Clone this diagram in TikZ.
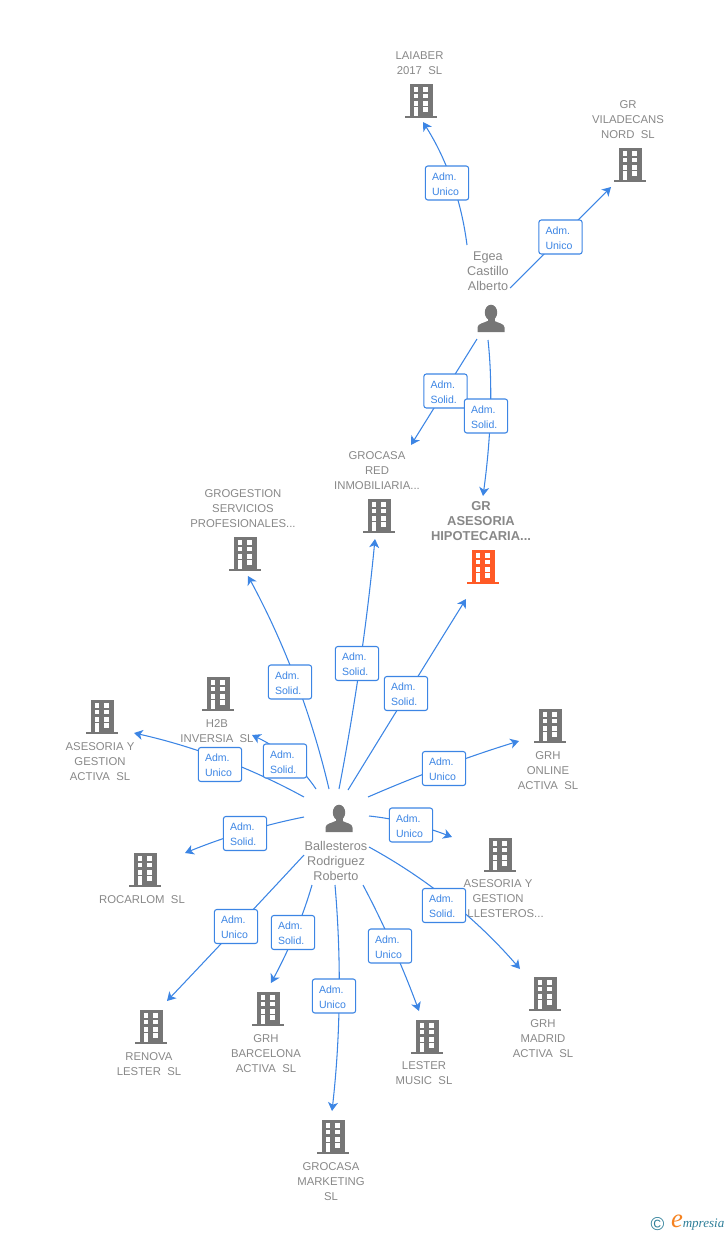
\documentclass[tikz,border=0pt]{standalone}
\usepackage{fontspec}
\setmainfont{Liberation Sans}
\newfontfamily\logofont{Liberation Serif}
\usetikzlibrary{arrows.meta,calc}
\definecolor{linkblue}{HTML}{3C85E4}
\definecolor{txtgray}{HTML}{888888}
\definecolor{icogray}{HTML}{767676}
\definecolor{icoorange}{HTML}{FF5A26}
\definecolor{logoteal}{HTML}{2F7F99}
\definecolor{logoorange}{HTML}{F58220}
\tikzset{
  link/.style={draw=linkblue,line width=0.8pt,-{Stealth[length=6.5pt,width=7.5pt,inset=1.8pt]}},
  rolebox/.style={draw=linkblue,line width=0.8pt,rounded corners=1.8pt,fill=white,
    minimum width=32.4pt,minimum height=25.5pt,inner sep=0pt,text=linkblue,
    font=\fontsize{7.9}{11.25}\selectfont,align=left,text width=22.5pt},
  lab/.style={text=txtgray,inner sep=0pt,align=center,font=\fontsize{8.5}{11.25}\selectfont},
  perlab/.style={lab,font=\fontsize{9.5}{11.25}\selectfont},
  biglab/.style={lab,font=\fontsize{9.7}{11.25}\selectfont\bfseries},
  pics/bld/.style={code={
    \fill[#1] (-11.5,0) rectangle (11.5,32);
    \fill[#1] (-16,32) rectangle (16,34);
    \foreach \yy in {3.3,10,17.3}{
      \fill[white] (-7.3,\yy) rectangle (-3,\yy+4.2);
      \fill[white] (2.4,\yy) rectangle (7,\yy+4.2);
    }
    \fill[white] (2.4,23.3) rectangle (7,27.6);
    \fill[white] (-7.3,23.3) rectangle (-3,32);
  }},
  pics/pers/.style={code={
    \fill[icogray] (0,7.5) ellipse (6.2 and 7.8);
    \fill[icogray] (-3.5,12) rectangle (3.5,19);
    \fill[icogray] (-13.5,27) -- (-13.5,22.5) .. controls (-13.5,18.5) and (-7,18) .. (-3.5,16)
      -- (3.5,16) .. controls (7,18) and (13.5,18.5) .. (13.5,22.5) -- (13.5,27) -- cycle;
  }}
}
% #1 id, #2 start, #3 point the bend is measured from, #4 end
\newcommand\conn[4]{%
  \coordinate (#1s) at (#2);
  \coordinate (#1e) at (#4);
  \coordinate (#1q) at (#3);
  \coordinate (#1m) at ($(#1s)!0.5!(#1e)$);
  \draw[link] (#1s) .. controls ($(#1s)!0.3333!(#1e)+(#1q)-(#1m)$) and ($(#1s)!0.6667!(#1e)+(#1q)-(#1m)$) .. (#1e);
}
\newcommand\rl[2]{\rule{0pt}{7.2pt}#1\\#2}
\begin{document}
\begin{tikzpicture}[x=0.75pt,y=-0.75pt]
\useasboundingbox (0,0) rectangle (728,1235);
% icons
\pic (laiaber) at (421,84) {bld=icogray};
\pic (vila) at (630,148) {bld=icogray};
\pic (redinm) at (379,499) {bld=icogray};
\pic (hipo) at (483,550) {bld=icoorange};
\pic (grog) at (245,537) {bld=icogray};
\pic (hdos) at (218,677) {bld=icogray};
\pic (asact) at (102,700) {bld=icogray};
\pic (online) at (550,709) {bld=icogray};
\pic (asball) at (500,838) {bld=icogray};
\pic (rocar) at (145,853) {bld=icogray};
\pic (renova) at (151,1010) {bld=icogray};
\pic (barna) at (268,992) {bld=icogray};
\pic (mkt) at (333,1120) {bld=icogray};
\pic (lester) at (427,1020) {bld=icogray};
\pic (madrid) at (545,977) {bld=icogray};
\pic (pegea) at (491,305) {pers};
\pic (pball) at (339,805) {pers};
% labels
\node[lab] (tlaiaber) at (419.5,63.5) {LAIABER\\2017\ \ SL};
\node[lab] (tvila) at (628,120) {GR\\VILADECANS\\NORD\ \ SL};
\node[perlab] (tegea) at (488,271) {Egea\\Castillo\\Alberto};
\node[lab] (tredinm) at (377,471) {GROCASA\\RED\\INMOBILIARIA...};
\node[biglab] (thipo) at (481,521) {GR\\ASESORIA\\HIPOTECARIA...};
\node[lab] (tgrog) at (243,509) {GROGESTION\\SERVICIOS\\PROFESIONALES...};
\node[lab] (thdos) at (217,731.5) {H2B\\INVERSIA\ \ SL};
\node[lab] (tasact) at (100,762) {ASESORIA Y\\GESTION\\ACTIVA\ \ SL};
\node[lab] (tonline) at (548,771) {GRH\\ONLINE\\ACTIVA\ \ SL};
\node[lab] (tasball) at (498,899) {ASESORIA Y\\GESTION\\\phantom{BA}LLESTEROS...};
\node[lab] (trocar) at (142,900) {ROCARLOM\ \ SL};
\node[lab] (trenova) at (149,1064.5) {RENOVA\\LESTER\ \ SL};
\node[lab] (tbarna) at (266,1054) {GRH\\BARCELONA\\ACTIVA\ \ SL};
\node[lab] (tmkt) at (331,1182) {GROCASA\\MARKETING\\SL};
\node[lab] (tlester) at (424,1073.5) {LESTER\\MUSIC\ \ SL};
\node[lab] (tmadrid) at (543,1039) {GRH\\MADRID\\ACTIVA\ \ SL};
\node[perlab] (tball) at (336,861) {Ballesteros\\Rodriguez\\Roberto};
% connectors
\conn{a}{467,245}{454,180}{423,122}
\conn{b}{510,288}{560,238}{611,187}
\conn{c}{477,339}{444,392}{411,445}
\conn{d}{488,340}{492,410}{483,496}
\conn{e}{329,789}{298,679}{248,576}
\conn{f}{339,789}{361,664}{375,539}
\conn{g}{348,790}{407,694}{466,599}
\conn{h}{316,789}{290,757}{252,735}
\conn{i}{304,797}{222,757}{134,733}
\conn{j}{368,797}{443,766}{519,741}
\conn{k}{369,816}{408,822}{452,837}
\conn{l}{304,817}{244,831}{185,853}
\conn{m}{369,847}{452,899}{520,969}
\conn{n}{304,855}{236,928}{167,1001}
\conn{o}{312,885}{296,933}{271,983}
\conn{p}{335,885}{341,998}{332,1111}
\conn{q}{363,885}{393,945}{419,1011}
% role boxes
\node[rolebox] (ba) at (447,183) {\rl{Adm.}{Unico}};
\node[rolebox] (bb) at (560.5,237) {\rl{Adm.}{Unico}};
\node[rolebox] (bc) at (445.5,391) {\rl{Adm.}{Solid.}};
\node[rolebox] (bd) at (486,416) {\rl{Adm.}{Solid.}};
\node[rolebox] (be) at (290,682) {\rl{Adm.}{Solid.}};
\node[rolebox] (bf) at (357,663.5) {\rl{Adm.}{Solid.}};
\node[rolebox] (bg) at (406,693.5) {\rl{Adm.}{Solid.}};
\node[rolebox] (bh) at (285,761) {\rl{Adm.}{Solid.}};
\node[rolebox] (bi) at (220,764.5) {\rl{Adm.}{Unico}};
\node[rolebox] (bj) at (444,768.5) {\rl{Adm.}{Unico}};
\node[rolebox] (bk) at (411,825) {\rl{Adm.}{Unico}};
\node[rolebox] (bl) at (245,833.5) {\rl{Adm.}{Solid.}};
\node[rolebox] (bm) at (444,905.5) {\rl{Adm.}{Solid.}};
\node[rolebox] (bn) at (236,926.5) {\rl{Adm.}{Unico}};
\node[rolebox] (bo) at (293,932.5) {\rl{Adm.}{Solid.}};
\node[rolebox] (bp) at (334,996) {\rl{Adm.}{Unico}};
\node[rolebox] (bq) at (390,946) {\rl{Adm.}{Unico}};
% logo
\node[inner sep=0pt,text=logoteal,font=\fontsize{14}{14}\selectfont] (logoc) at (657.5,1224) {©};
\node[inner sep=0pt,text=logoorange,font=\logofont\itshape\fontsize{20}{20}\selectfont] (logoe) at (677,1221) {e};
\node[inner sep=0pt,text=logoteal,anchor=west,font=\logofont\itshape\fontsize{9.8}{10}\selectfont] (logot) at (682.5,1225) {mpresia};
\end{tikzpicture}
\end{document}
